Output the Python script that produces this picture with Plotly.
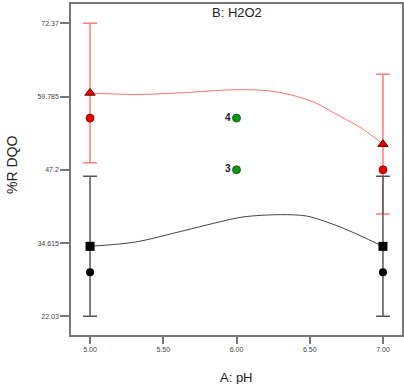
import plotly.graph_objects as go

# Data
x_levels = [5.0, 7.0]
red_pred = [60.4, 51.6]
red_err = [11.97, 12.0]
red_actual = [56.08, 47.2]
black_pred = [34.05, 34.05]
black_err = [12.02, 12.02]
black_actual = [29.58, 29.58]
center_x = [6.0, 6.0]
center_y = [56.08, 47.2]
center_labels = ["<b>4</b>", "<b>3</b>"]

red_curve_x = [5.0, 5.31, 5.65, 5.97, 6.20, 6.37, 6.54, 6.71, 6.86, 7.0]
red_curve_y = [60.4, 60.13, 60.47, 60.94, 60.82, 60.08, 58.70, 56.35, 54.24, 51.6]
black_curve_x = [5.0, 5.31, 5.65, 6.04, 6.30, 6.48, 6.71, 7.0]
black_curve_y = [34.05, 34.79, 36.80, 39.08, 39.49, 39.25, 37.36, 34.05]

y_ticks = [22.03, 34.615, 47.2, 59.785, 72.37]
y_tick_text = ["22.03", "34.615", "47.2", "59.785", "72.37"]
x_ticks = [5.0, 5.5, 6.0, 6.5, 7.0]
x_tick_text = ["5.00", "5.50", "6.00", "6.50", "7.00"]

FONT = "Liberation Sans, Arial"

fig = go.Figure()

fig.add_trace(go.Scatter(x=red_curve_x, y=red_curve_y, mode="lines",
                         line=dict(color="#ff7070", width=1, shape="spline", smoothing=0.8),
                         hoverinfo="skip"))
fig.add_trace(go.Scatter(x=black_curve_x, y=black_curve_y, mode="lines",
                         line=dict(color="#444444", width=1, shape="spline", smoothing=0.8),
                         hoverinfo="skip"))

# Error bars with predicted markers
fig.add_trace(go.Scatter(x=x_levels, y=red_pred, mode="markers",
                         marker=dict(symbol="triangle-up", size=9, color="#e00000",
                                     line=dict(color="#700000", width=1)),
                         error_y=dict(type="data", array=red_err, symmetric=True,
                                      color="#ff7b7b", thickness=1.5, width=7)))
fig.add_trace(go.Scatter(x=x_levels, y=black_pred, mode="markers",
                         marker=dict(symbol="square", size=9, color="#000000"),
                         error_y=dict(type="data", array=black_err, symmetric=True,
                                      color="#555555", thickness=1.5, width=7)))

# Actual points
fig.add_trace(go.Scatter(x=x_levels, y=red_actual, mode="markers",
                         marker=dict(symbol="circle", size=8, color="#ee0000",
                                     line=dict(color="#800000", width=0.8))))
fig.add_trace(go.Scatter(x=x_levels, y=black_actual, mode="markers",
                         marker=dict(symbol="circle", size=8, color="#000000")))
fig.add_trace(go.Scatter(x=center_x, y=center_y, mode="markers+text",
                         text=center_labels, textposition="middle left",
                         textfont=dict(family=FONT, size=10, color="#222222"),
                         marker=dict(symbol="circle", size=8, color="#00a000",
                                     line=dict(color="#333333", width=0.8))))

axis_common = dict(showline=True, linecolor="#777777", linewidth=1.5, mirror=True,
                   showgrid=False, zeroline=False, ticks="outside",
                   tickcolor="#777777", tickwidth=1.5, automargin=False,
                   tickfont=dict(family=FONT, size=7, color="#444444"))

fig.update_layout(
    width=404, height=384,
    margin=dict(l=71, r=2, t=4, b=49),
    paper_bgcolor="white", plot_bgcolor="white",
    showlegend=False,
    xaxis=dict(range=[4.87, 7.13], tickvals=x_ticks, ticktext=x_tick_text,
               ticklen=7, **axis_common),
    yaxis=dict(range=[18.82, 75.68], tickvals=y_ticks, ticktext=y_tick_text,
               ticklen=9, **axis_common),
    annotations=[
        dict(text="B: H2O2", x=6.0, xref="x", y=0.973, yref="paper",
             xanchor="center", yanchor="middle", showarrow=False,
             font=dict(family=FONT, size=13, color="#222222")),
        dict(text="A: pH", x=6.0, xref="x", y=-0.127, yref="paper",
             xanchor="center", yanchor="middle", showarrow=False,
             font=dict(family=FONT, size=13, color="#222222")),
        dict(text="%R DQO", x=-0.178, xref="paper", y=0.514, yref="paper",
             xanchor="center", yanchor="middle", showarrow=False, textangle=-90,
             font=dict(family=FONT, size=14, color="#222222")),
    ],
)

fig.write_html("out.html", config={"displayModeBar": False},
               post_script="document.body.style.margin='0px';document.body.style.overflow='hidden';")
